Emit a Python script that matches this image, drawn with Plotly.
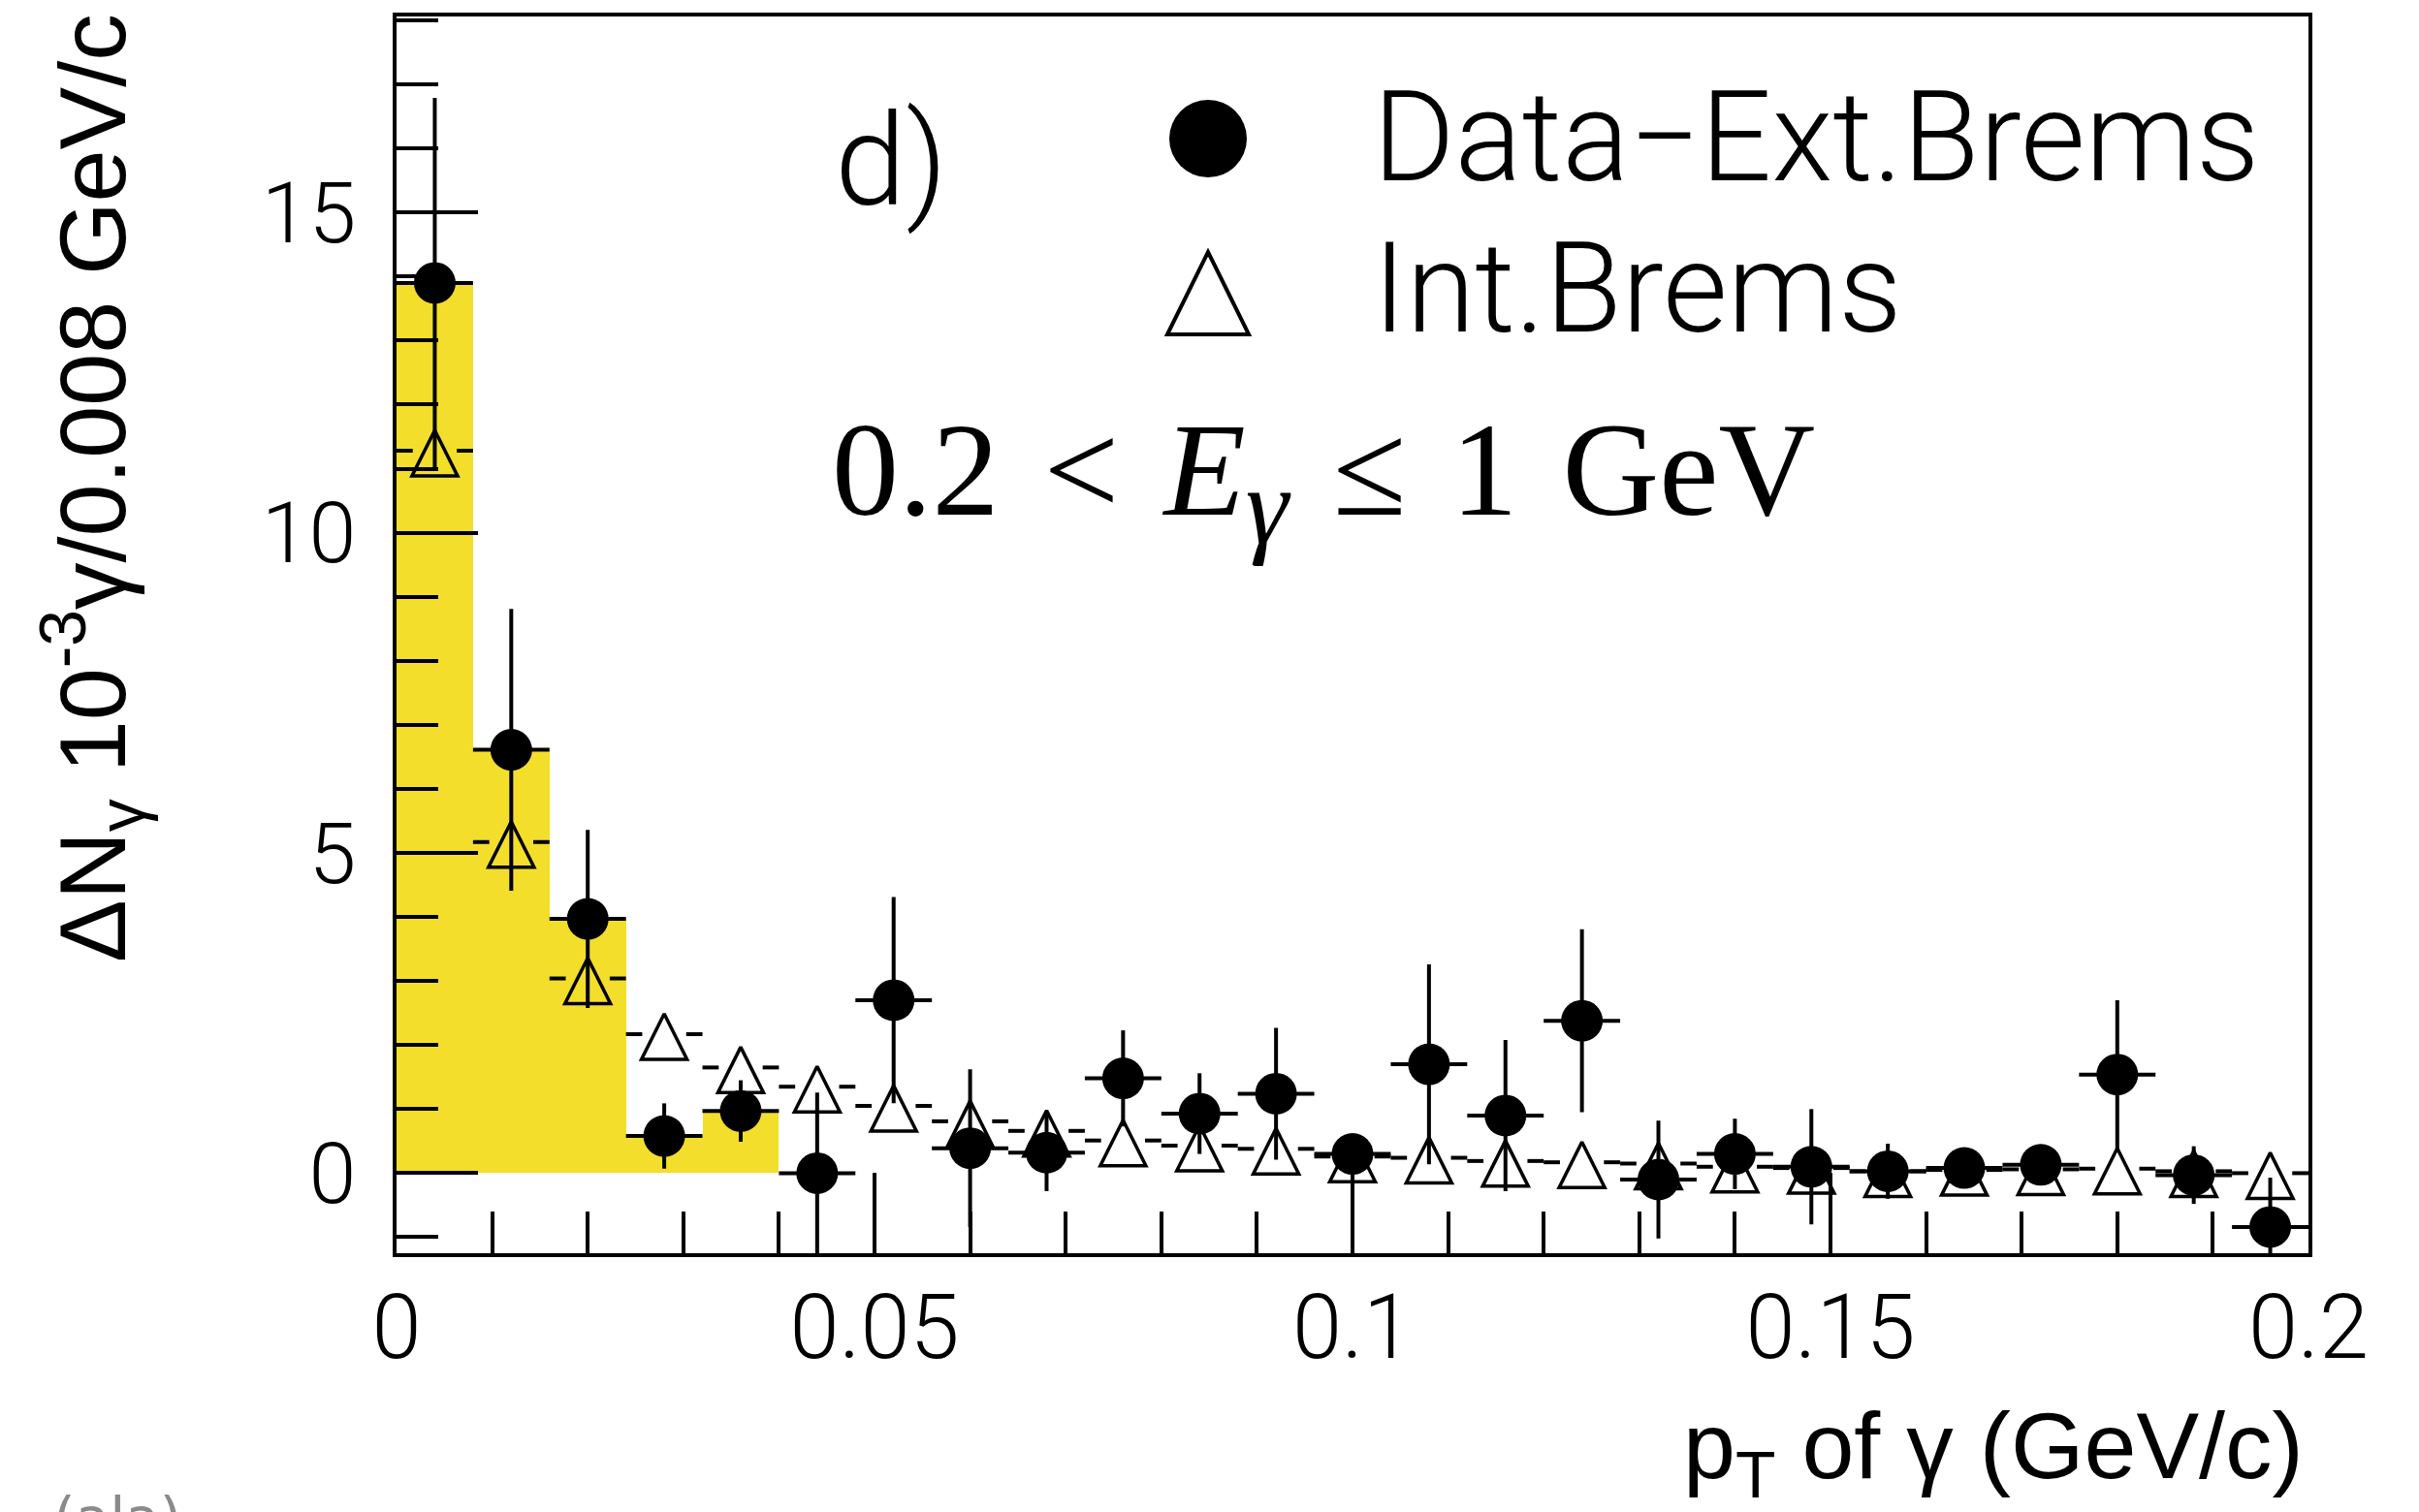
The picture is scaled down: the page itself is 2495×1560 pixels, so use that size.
import plotly.graph_objects as go

# ---------------- data ----------------
bin_half = 0.004
pt_centers = [0.004, 0.012, 0.020, 0.028, 0.036, 0.044, 0.052, 0.060, 0.068, 0.076,
              0.084, 0.092, 0.100, 0.108, 0.116, 0.124, 0.132, 0.140, 0.148, 0.156,
              0.164, 0.172, 0.180, 0.188, 0.196]
data_vals = [13.90, 6.61, 3.97, 0.58, 0.97, 0.00, 2.70, 0.39, 0.32, 1.48,
             0.93, 1.24, 0.30, 1.70, 0.90, 2.38, -0.10, 0.30, 0.10, 0.03,
             0.08, 0.13, 1.54, -0.03, -0.84]
data_errs = [2.89, 2.20, 1.39, 0.51, 0.48, 1.26, 1.61, 1.23, 0.60, 0.75,
             0.63, 1.03, 0.30, 1.56, 1.18, 1.43, 0.92, 0.55, 0.90, 0.43,
             0.30, 0.25, 1.16, 0.45, 0.77]
ib_vals = [11.28, 5.17, 3.04, 2.17, 1.65, 1.35, 1.05, 0.81, 0.66, 0.51,
           0.43, 0.38, 0.26, 0.24, 0.19, 0.17, 0.15, 0.10, 0.08, 0.03,
           0.05, 0.06, 0.07, 0.03, 0.00]
signal_centers = [0.004, 0.012, 0.020, 0.028, 0.036]
signal_vals = [13.92, 6.64, 3.98, 0.58, 0.97]

x_tick_vals = [0, 0.05, 0.1, 0.15, 0.2]
x_tick_text = ["0", "0.05", "0.1", "0.15", "0.2"]
y_tick_vals = [0, 5, 10, 15]
y_tick_text = ["0", "5", "10", "15"]

# ---------------- styling ----------------
W, H = 2495, 1560
ML, MR, MT, MB = 409, 114, 17, 267
PW, PH = W - ML - MR, H - MT - MB
y_lo, y_hi = -1.25, 18.06
x_lo, x_hi = 0.0, 0.2
YELLOW = "#F3DE2C"
THIN = "Roboto, DejaVu Sans"

def px_x(p):
    return (p - ML) / PW

def px_y(p):
    return (H - MB - p) / PH

# triangle marker ('arrow-up' has its apex at the point) -> shift drawing axis
tri_size = 47
shift = 21 * (y_hi - y_lo) / PH

# horizontal bin bars of the triangles, interrupted around the marker
gap = 0.0023
ib_bar_x, ib_bar_y = [], []
for xc, yv in zip(pt_centers, ib_vals):
    ib_bar_x += [xc - bin_half, xc - gap, None, xc + gap, xc + bin_half, None]
    ib_bar_y += [yv, yv, None, yv, yv, None]

fig = go.Figure()

fig.add_trace(go.Bar(
    x=signal_centers, y=signal_vals, width=2 * bin_half,
    marker=dict(color=YELLOW, line=dict(width=0)),
    showlegend=False, hoverinfo="skip"))

fig.add_trace(go.Scatter(
    x=ib_bar_x, y=ib_bar_y, mode="lines",
    line=dict(color="black", width=4),
    showlegend=False, hoverinfo="skip"))

fig.add_trace(go.Scatter(
    x=pt_centers, y=ib_vals, mode="markers", yaxis="y2",
    marker=dict(symbol="arrow-up-open", size=tri_size, color="black",
                line=dict(color="black", width=3.5)),
    name="Int.Brems", showlegend=False))

fig.add_trace(go.Scatter(
    x=pt_centers, y=data_vals, mode="markers",
    marker=dict(symbol="circle", size=43, color="black", line=dict(width=0)),
    error_y=dict(type="data", array=data_errs, color="black", thickness=4, width=0),
    error_x=dict(type="constant", value=bin_half, color="black", thickness=4, width=0),
    name="Data-Ext.Brems", showlegend=False))

axis_common = dict(
    showgrid=False, zeroline=False, showline=True, linecolor="black", linewidth=4,
    mirror=True, ticks="inside", tickcolor="black", tickwidth=4,
    layer="above traces",
)

fig.update_layout(
    width=W, height=H,
    margin=dict(l=ML, r=MR, t=MT, b=MB, pad=0),
    paper_bgcolor="white", plot_bgcolor="white",
    showlegend=False,
    bargap=0,
    xaxis=dict(
        range=[x_lo, x_hi], tickmode="array", tickvals=x_tick_vals, ticktext=x_tick_text,
        ticklen=83, tickfont=dict(family=THIN, size=92, color="black", weight=300),
        ticklabelstandoff=-6,
        minor=dict(dtick=0.01, tick0=0, ticklen=43, tickwidth=4, tickcolor="black",
                   ticks="inside", showgrid=False),
        **axis_common),
    yaxis=dict(
        range=[y_lo, y_hi], tickmode="array", tickvals=y_tick_vals, ticktext=y_tick_text,
        ticklen=84, tickfont=dict(family=THIN, size=88, color="black", weight=300),
        ticklabelstandoff=20,
        minor=dict(dtick=1, tick0=0, ticklen=43, tickwidth=4, tickcolor="black",
                   ticks="inside", showgrid=False),
        **axis_common),
    yaxis2=dict(overlaying="y", range=[y_lo - shift, y_hi - shift], visible=False),
)

sp = " \u200a"
annotations = [
    dict(text="d)", x=px_x(859), y=px_y(212 - 0.35 * 132), xanchor="left", yanchor="middle",
         font=dict(family=THIN, size=132, color="black", weight=300)),
    dict(text="Data\u2212Ext.Brems", x=px_x(1414), y=px_y(187 - 0.35 * 129),
         xanchor="left", yanchor="middle",
         font=dict(family=THIN, size=129, color="black", weight=300)),
    dict(text="Int.Brems", x=px_x(1414), y=px_y(343 - 0.35 * 129),
         xanchor="left", yanchor="middle",
         font=dict(family=THIN, size=129, color="black", weight=300)),
    dict(text="0.2" + sp + "&lt;" + sp + "<i>E</i><sub><span style='font-size:112px'><i>\u03b3</i></span></sub>"
              + sp + "\u2264" + sp + "1" + sp + "GeV",
         x=px_x(856), y=px_y(543 - 0.34 * 138), xanchor="left", yanchor="middle",
         font=dict(family="Liberation Serif", size=138, color="black")),
    dict(text="\u0394N<sub>\u03b3</sub> 10<sup>-3</sup>\u03b3/0.008 GeV/c", textangle=-90,
         x=px_x(95), y=px_y(504), xanchor="center", yanchor="middle",
         font=dict(family="Liberation Sans", size=97, color="black")),
    dict(text="p<sub>T</sub> of \u03b3 (GeV/c)", x=px_x(2378), y=px_y(1532 - 0.347 * 97),
         xanchor="right", yanchor="middle",
         font=dict(family="Liberation Sans", size=97, color="black")),
    dict(text="(ala)", x=px_x(53), y=px_y(1587 - 0.346 * 58), xanchor="left", yanchor="middle",
         font=dict(family="DejaVu Sans", size=58, color="#8a8a8a")),
]
for a in annotations:
    a.update(xref="paper", yref="paper", showarrow=False)
fig.update_layout(annotations=annotations)

# legend symbols
fig.add_shape(type="circle", xref="paper", yref="paper", xsizemode="pixel", ysizemode="pixel",
              xanchor=px_x(1246), yanchor=px_y(143), x0=-40, x1=40, y0=-40, y1=40,
              fillcolor="black", line=dict(width=0))
fig.add_shape(type="path", xref="paper", yref="paper", xsizemode="pixel", ysizemode="pixel",
              xanchor=px_x(1246), yanchor=px_y(303),
              path="M-42,-42 L42,-42 L0,43 Z",
              fillcolor="rgba(0,0,0,0)", line=dict(color="black", width=4))

fig.write_html("out.html", config={"displayModeBar": False},
               post_script="document.body.style.margin='0';")
